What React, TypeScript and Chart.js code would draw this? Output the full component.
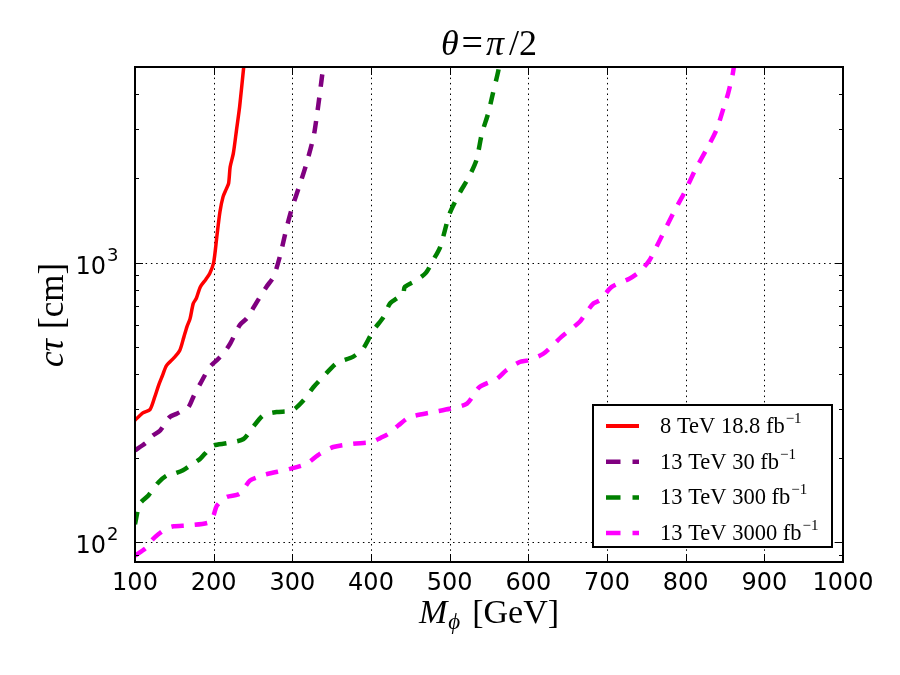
import React, { useEffect, useRef } from 'react';
import { Chart, registerables } from 'chart.js';

Chart.register(...registerables);

// ---- data ----
const redMass = [100, 110, 119, 125, 130, 135, 140, 150, 157, 162, 166, 170, 174, 178, 183, 190, 195, 200, 204, 208, 212, 216, 219, 221, 225, 229, 233, 238, 239];
const redCtau = [273, 290, 298, 330, 364, 395, 428, 458, 486, 540, 589, 630, 713, 745, 818, 870, 914, 1000, 1235, 1520, 1720, 1830, 1918, 2198, 2455, 2973, 3603, 4940, 5200];

const purpleMass = [100, 115, 122, 132, 144, 153, 160, 168, 175, 183, 195, 206, 214, 221, 233, 242, 248, 255, 267, 276, 284, 293, 300, 310, 318, 327, 331, 335, 339, 340];
const purpleCtau = [213, 228, 240, 251, 280, 288, 295, 304, 335, 369, 423, 453, 480, 513, 597, 631, 670, 723, 818, 888, 1047, 1341, 1580, 1918, 2259, 2818, 3321, 4027, 4940, 5200];

const greenMass = [100, 106, 117, 130, 140, 150, 161, 170, 183, 192, 200, 217, 238, 250, 263, 280, 300, 314, 327, 339, 356, 377, 390, 403, 416, 424, 435, 441, 443, 458, 470, 479, 488, 500, 513, 524, 534, 541, 549, 555, 562, 563];
const greenCtau = [116, 137, 147, 164, 173, 176, 181, 188, 199, 212, 222, 226, 234, 258, 284, 292, 296, 321, 359, 390, 436, 460, 492, 572, 639, 713, 752, 774, 818, 865, 920, 1019, 1137, 1497, 1780, 2010, 2323, 2897, 3415, 4027, 4875, 5200];

const magentaMass = [100, 115, 122, 130, 140, 149, 170, 195, 200, 204, 216, 233, 246, 256, 267, 297, 318, 335, 352, 377, 401, 412, 422, 435, 449, 479, 500, 522, 538, 560, 572, 589, 600, 619, 642, 665, 674, 683, 691, 706, 729, 742, 754, 767, 784, 799, 812, 826, 839, 848, 854, 860, 862];
const magentaCtau = [89.6, 96, 102, 107, 112, 114, 115, 118, 125, 135, 145, 149, 166, 171, 175, 183, 191, 207, 219, 225, 228, 236, 244, 262, 280, 292, 300, 313, 359, 384, 412, 441, 447, 472, 542, 613, 665, 715, 733, 818, 877, 930, 1019, 1200, 1497, 1791, 2140, 2522, 2973, 3556, 4027, 4746, 5200];

const seriesLabels = ['8 TeV 18.8 fb', '13 TeV 30 fb', '13 TeV 300 fb', '13 TeV 3000 fb'];
const seriesColors = ['#ff0000', '#800080', '#008000', '#ff00ff'];

const xTicks = [100, 200, 300, 400, 500, 600, 700, 800, 900, 1000];
const yMajorTicks = [100, 1000];
const yMinorTicks = [90, 200, 300, 400, 500, 600, 700, 800, 900, 2000, 3000, 4000];

const X_MIN = 100, X_MAX = 1000, Y_MIN = 85, Y_MAX = 5000;

const SANS = '"DejaVu Sans", sans-serif';
const SERIF = '"Liberation Serif", "DejaVu Serif", serif';

type Run = { t: string; f: string; dy?: number; gap?: number };

function drawRuns(ctx: CanvasRenderingContext2D, runs: Run[], x: number, y: number, align: 'left' | 'center' | 'right') {
  let total = 0;
  const widths = runs.map(r => {
    ctx.font = r.f;
    const w = ctx.measureText(r.t).width + (r.gap || 0);
    total += w;
    return w;
  });
  let cx = align === 'left' ? x : align === 'center' ? x - total / 2 : x - total;
  ctx.textAlign = 'left';
  ctx.textBaseline = 'alphabetic';
  runs.forEach((r, i) => {
    ctx.font = r.f;
    ctx.fillText(r.t, cx, y + (r.dy || 0));
    cx += widths[i];
  });
}

const decor = {
  id: 'decor',
  beforeDatasetsDraw(chart: any) {
    const { ctx, chartArea: a, scales } = chart;
    const xs = scales.x, ys = scales.y;
    ctx.save();
    ctx.strokeStyle = '#000';
    ctx.lineWidth = 1;
    ctx.setLineDash([1.5, 3.8]);
    xTicks.slice(1, -1).forEach(v => {
      const px = Math.round(xs.getPixelForValue(v)) + 0.5;
      ctx.beginPath(); ctx.moveTo(px, a.top); ctx.lineTo(px, a.bottom); ctx.stroke();
    });
    yMajorTicks.forEach(v => {
      const py = Math.round(ys.getPixelForValue(v)) + 0.5;
      ctx.beginPath(); ctx.moveTo(a.left, py); ctx.lineTo(a.right, py); ctx.stroke();
    });
    ctx.restore();
  },
  afterDraw(chart: any) {
    const { ctx, chartArea: a, scales } = chart;
    const xs = scales.x, ys = scales.y;
    ctx.save();
    ctx.setLineDash([]);
    ctx.strokeStyle = '#000';
    ctx.fillStyle = '#000';

    // ticks (inside)
    ctx.lineWidth = 1;
    xTicks.slice(1, -1).forEach(v => {
      const px = Math.round(xs.getPixelForValue(v)) + 0.5;
      ctx.beginPath();
      ctx.moveTo(px, a.bottom); ctx.lineTo(px, a.bottom - 8);
      ctx.moveTo(px, a.top); ctx.lineTo(px, a.top + 8);
      ctx.stroke();
    });
    yMajorTicks.forEach(v => {
      const py = Math.round(ys.getPixelForValue(v)) + 0.5;
      ctx.beginPath();
      ctx.moveTo(a.left, py); ctx.lineTo(a.left + 8, py);
      ctx.moveTo(a.right, py); ctx.lineTo(a.right - 8, py);
      ctx.stroke();
    });
    yMinorTicks.forEach(v => {
      const py = Math.round(ys.getPixelForValue(v)) + 0.5;
      ctx.beginPath();
      ctx.moveTo(a.left, py); ctx.lineTo(a.left + 4, py);
      ctx.moveTo(a.right, py); ctx.lineTo(a.right - 4, py);
      ctx.stroke();
    });

    // frame
    ctx.lineWidth = 2;
    ctx.strokeRect(a.left, a.top, a.right - a.left, a.bottom - a.top);

    // x tick labels
    ctx.font = `24px ${SANS}`;
    ctx.textAlign = 'center';
    ctx.textBaseline = 'alphabetic';
    xTicks.forEach(v => {
      ctx.fillText(String(v), xs.getPixelForValue(v), a.bottom + 28);
    });

    // y tick labels 10^n
    yMajorTicks.forEach(v => {
      const py = ys.getPixelForValue(v);
      const exp = String(Math.round(Math.log10(v)));
      ctx.textAlign = 'right';
      ctx.font = `24px ${SANS}`;
      ctx.fillText('10', a.left - 29, py + 11);
      ctx.textAlign = 'left';
      ctx.font = `18px ${SANS}`;
      ctx.fillText(exp, a.left - 28, py - 2);
    });

    // title
    drawRuns(ctx, [
      { t: 'θ', f: `italic 36px ${SERIF}`, gap: 3 },
      { t: '=', f: `38px ${SERIF}`, gap: 3 },
      { t: 'π', f: `italic 36px ${SERIF}`, gap: 5 },
      { t: '/2', f: `36px ${SERIF}` },
    ], (a.left + a.right) / 2, 55, 'center');

    // x axis label
    drawRuns(ctx, [
      { t: 'M', f: `italic 34px ${SERIF}`, gap: 1 },
      { t: 'ϕ', f: `italic 23px ${SERIF}`, dy: 6, gap: 12 },
      { t: '[GeV]', f: `34px ${SERIF}` },
    ], (a.left + a.right) / 2, 623, 'center');

    // y axis label
    ctx.save();
    ctx.translate(63, 315);
    ctx.rotate(-Math.PI / 2);
    drawRuns(ctx, [
      { t: 'cτ', f: `italic 35px ${SERIF}`, gap: 10 },
      { t: '[cm]', f: `35px ${SERIF}` },
    ], 0, 0, 'center');
    ctx.restore();

    // legend
    const bw = 239, bh = 142;
    const bx = a.right - 11 - bw, by = a.bottom - 15 - bh;
    ctx.fillStyle = '#fff';
    ctx.fillRect(bx, by, bw, bh);
    ctx.lineWidth = 2;
    ctx.strokeStyle = '#000';
    ctx.strokeRect(bx, by, bw, bh);
    seriesLabels.forEach((lab, i) => {
      const ry = by + 21 + i * 35.7;
      ctx.strokeStyle = seriesColors[i];
      ctx.lineWidth = i === 0 ? 4 : 4.5;
      ctx.lineCap = 'butt';
      ctx.setLineDash(i === 0 ? [] : [14.5, 12]);
      ctx.beginPath();
      ctx.moveTo(bx + 13, ry); ctx.lineTo(bx + 46, ry);
      ctx.stroke();
      ctx.setLineDash([]);
      ctx.fillStyle = '#000';
      drawRuns(ctx, [
        { t: lab, f: `22.5px ${SERIF}`, gap: 1 },
        { t: '−1', f: `15px ${SERIF}`, dy: -10 },
      ], bx + 67, ry + 7, 'left');
    });
    ctx.restore();
  },
};

function toPoints(xs: number[], ys: number[]) {
  return xs.map((x, i) => ({ x, y: ys[i] }));
}

export default function App() {
  const ref = useRef<HTMLCanvasElement | null>(null);
  useEffect(() => {
    if (!ref.current) return;
    const mk = (i: number, xs: number[], ys: number[]) => ({
      label: seriesLabels[i],
      data: toPoints(xs, ys),
      borderColor: seriesColors[i],
      backgroundColor: seriesColors[i],
      borderWidth: i === 0 ? 3.5 : 4.5,
      borderDash: i === 0 ? [] : [12.5, 11],
      borderCapStyle: 'butt' as const,
      pointRadius: 0,
      tension: 0.25,
      fill: false,
    });
    const chart = new Chart(ref.current, {
      type: 'line',
      data: {
        datasets: [
          mk(0, redMass, redCtau),
          mk(1, purpleMass, purpleCtau),
          mk(2, greenMass, greenCtau),
          mk(3, magentaMass, magentaCtau),
        ],
      },
      options: {
        animation: false,
        responsive: false,
        devicePixelRatio: 1,
        parsing: true,
        layout: { padding: { left: 135, right: 57, top: 67, bottom: 113 } },
        plugins: { legend: { display: false }, tooltip: { enabled: false }, title: { display: false } },
        scales: {
          x: { type: 'linear', min: X_MIN, max: X_MAX, display: false },
          y: { type: 'logarithmic', min: Y_MIN, max: Y_MAX, display: false },
        },
      },
      plugins: [decor],
    });
    return () => chart.destroy();
  }, []);
  return (
    <div style={{ position: 'fixed', left: 0, top: 0, width: 900, height: 675, background: '#fff' }}>
      <canvas ref={ref} width={900} height={675} style={{ width: 900, height: 675 }} />
    </div>
  );
}
